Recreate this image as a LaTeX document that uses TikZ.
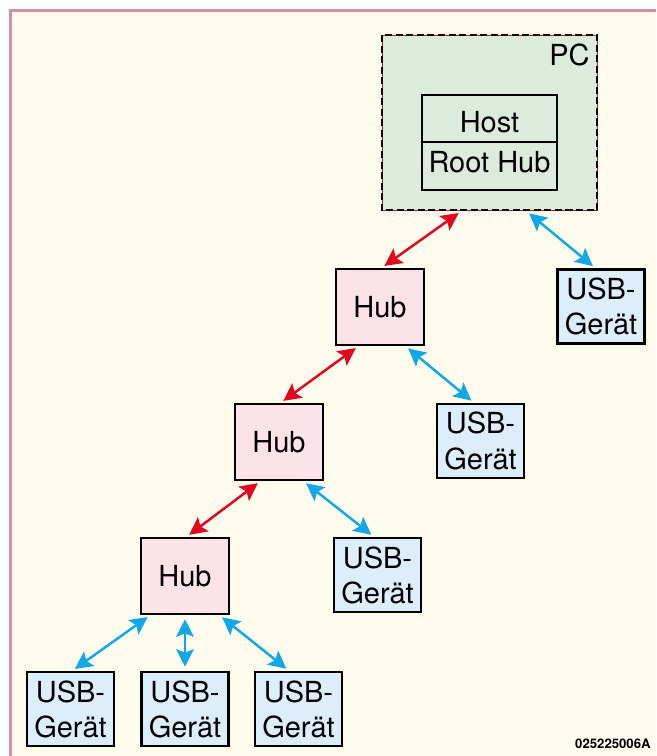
\documentclass[tikz,border=0pt]{standalone}
\usepackage{fontspec}
\setmainfont{TeX Gyre Heros}
\usepackage{xcolor}
\usepackage{tikz}
\usetikzlibrary{arrows.meta}

\definecolor{paper}{HTML}{FFFCEE}
\definecolor{frame}{HTML}{D58DA9}
\definecolor{pcgreen}{HTML}{DCEBDC}
\definecolor{hubpink}{HTML}{FCE3EA}
\definecolor{devblue}{HTML}{DCEEFB}
\definecolor{linkred}{HTML}{E2061F}
\definecolor{linkblue}{HTML}{10A8E6}

\begin{document}
\begin{tikzpicture}[x=0.02cm, y=-0.02cm,
    box/.style={draw, line width=1.3pt, inner sep=0pt, outer sep=0pt, align=center,
      font=\fontsize{16.5}{20}\selectfont},
    hub/.style={box, fill=hubpink, minimum width=1.76cm, minimum height=1.52cm},
    device/.style={box, fill=devblue, minimum width=1.74cm, minimum height=1.48cm},
    boxtext/.style={font=\fontsize{16.5}{20}\selectfont, inner sep=0pt, anchor=base},
    uplink/.style={{Stealth[length=10pt,width=10pt,inset=2pt]}-{Stealth[length=10pt,width=10pt,inset=2pt]},
      line width=1.4pt, linkred, shorten <=3pt, shorten >=3pt},
    devlink/.style={{Stealth[length=10pt,width=10pt,inset=2pt]}-{Stealth[length=10pt,width=10pt,inset=2pt]},
      line width=1.4pt, linkblue, shorten <=3pt, shorten >=3pt}]
  % Background and frame
  \useasboundingbox (0,0) rectangle (656,756);
  \fill[paper] (12,12) rectangle (656,756);
  \draw[frame, line width=1.8pt] (10.5,756) -- (10.5,10.5) -- (656,10.5);
  % PC with host controller
  \node[minimum width=4.3cm, minimum height=3.5cm, fill=pcgreen, outer sep=0pt,
    draw=linkred, line width=0.5pt] (pc) at (489.5,122.5) {};
  \draw[line width=1.6pt, dash pattern=on 4pt off 2pt]
    (pc.north west) rectangle (pc.south east);
  \node[font=\fontsize{16.5}{20}\selectfont, anchor=north east, inner sep=0pt] at (590,43) {PC};
  \node[box, minimum width=2.7cm, minimum height=0.94cm] (host) at (489.5,118.5) {};
  \node[box, minimum width=2.7cm, minimum height=0.96cm, anchor=north] (roothub) at (host.south) {};
  \node[boxtext] at (489.5,133) {Host};
  \node[boxtext] at (489.5,173) {Root Hub};
  % Hubs
  \node[hub] (hubA) at (380,307) {Hub};
  \node[hub] (hubB) at (279,442) {Hub};
  \node[hub] (hubC) at (185,576) {Hub};
  % USB devices
  \node[device] (devA) at (601,306.5) {USB-\\Gerät};
  \node[device] (devB) at (480.5,441) {USB-\\Gerät};
  \node[device] (devC) at (377.5,575) {USB-\\Gerät};
  \node[device] (devD) at (70.5,709) {USB-\\Gerät};
  \node[device] (devE) at (185,709) {USB-\\Gerät};
  \node[device] (devF) at (298.5,709) {USB-\\Gerät};
  % Connections
  \draw[uplink] (hubA.north) -- ([xshift=-0.53cm]pc.south);
  \draw[devlink] ([xshift=0.71cm]pc.south) -- ([xshift=-0.08cm]devA.north);
  \draw[uplink] (hubB.north) -- ([xshift=-0.4cm]hubA.south);
  \draw[devlink] ([xshift=0.48cm]hubA.south) -- ([xshift=-0.1cm]devB.north);
  \draw[uplink] (hubC.north) -- ([xshift=-0.34cm]hubB.south);
  \draw[devlink] ([xshift=0.46cm]hubB.south) -- ([xshift=-0.04cm]devC.north);
  \draw[devlink] (devD.north) -- ([xshift=-0.66cm]hubC.south);
  \draw[devlink] (devE.north) -- (hubC.south);
  \draw[devlink] ([xshift=0.66cm]hubC.south) -- ([xshift=-0.16cm]devF.north);
  % Figure number
  \node[font=\bfseries\fontsize{7.5}{9}\selectfont, anchor=south east, inner sep=0pt] (fignum) at (651,749) {025225006A};
\end{tikzpicture}
\end{document}
